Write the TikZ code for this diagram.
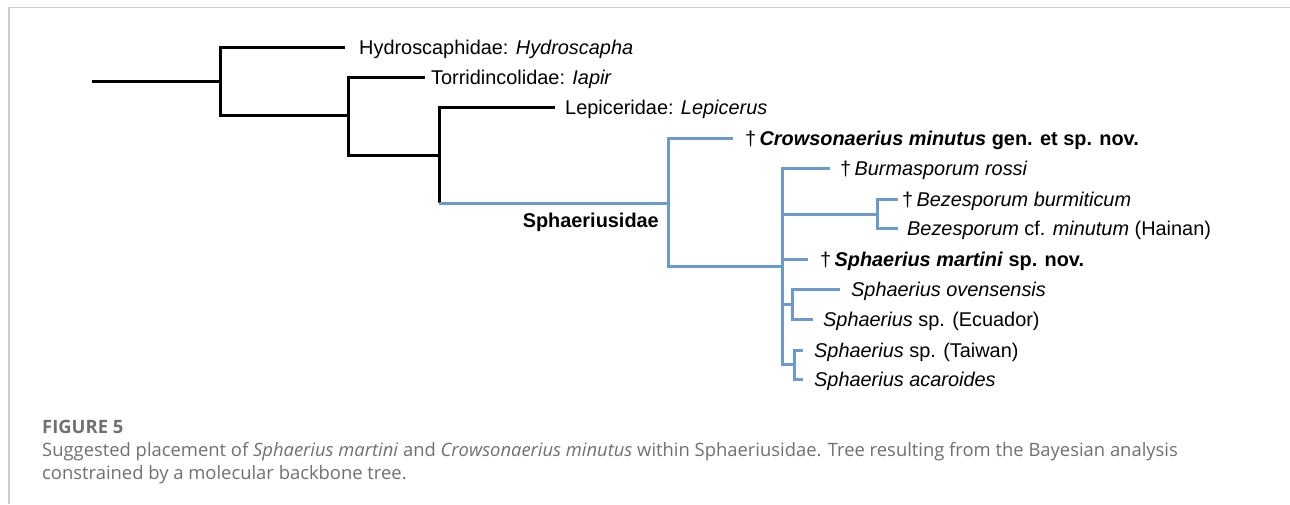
\documentclass[tikz,border=0pt]{standalone}
\usepackage{fontspec}
\setmainfont{Liberation Sans}
\newfontfamily\capfont{Open Sans}
\definecolor{treeblue}{HTML}{6A9BD0}
\definecolor{capgray}{HTML}{707070}
\definecolor{framegray}{HTML}{CCCCCC}
\begin{document}
\begin{tikzpicture}[x=1pt,y=-1pt,
  blk/.style={line width=3pt, black, line join=miter},
  blu/.style={line width=3pt, treeblue, line join=miter},
  lab/.style={anchor=base west, inner sep=0pt, font=\fontsize{19.9}{23}\selectfont},
  captxt/.style={anchor=base west, inner sep=0pt, text=capgray, font=\capfont\fontsize{18.4}{23}\selectfont},
  framestyle/.style={line width=1.5pt, framegray}
]
\useasboundingbox (0,0) rectangle (1290,504);
% frame
\coordinate (fTL) at (9,7.5);
\coordinate (fTR) at (1290,7.5);
\coordinate (fBL) at (9,504);
\draw[framestyle] (fTR) -- (fTL) -- (fBL);

% internal nodes
\coordinate (r0) at (92,81);
\coordinate (A) at (220,81);
\coordinate (B) at (348,115);
\coordinate (C) at (439,155);
\coordinate (Cb) at (439,203);
\coordinate (D) at (668,203);
\coordinate (E) at (782,266);
\coordinate (F) at (877,214);
\coordinate (G) at (792,304);
\coordinate (H) at (794,364);
% tips
\coordinate (tHy) at (345,47);
\coordinate (tTo) at (425,77);
\coordinate (tLe) at (555,107);
\coordinate (tCr) at (733,138);
\coordinate (tBu) at (830,168);
\coordinate (tBb) at (898,199);
\coordinate (tBm) at (898,228);
\coordinate (tMa) at (808,259);
\coordinate (tOv) at (840,289);
\coordinate (tEc) at (813,319);
\coordinate (tTw) at (803,350);
\coordinate (tAc) at (803,379);

% black backbone
\draw[blk] (r0) -- (A);
\draw[blk] (A) |- (tHy);
\draw[blk] (A) |- (B);
\draw[blk] (B) |- (tTo);
\draw[blk] (B) |- (C);
\draw[blk] (tLe) -| (Cb);
% blue Sphaeriusidae
\draw[blu] (Cb) -- (D);
\draw[blu] (D) |- (tCr);
\draw[blu] (D) |- (E);
\draw[blu] (E) |- (tBu);
\draw[blu] (E) |- (F);
\draw[blu] (E) |- (tMa);
\draw[blu] (E) |- (G);
\draw[blu] (E) |- (H);
\draw[blu] (F) |- (tBb);
\draw[blu] (F) |- (tBm);
\draw[blu] (G) |- (tOv);
\draw[blu] (G) |- (tEc);
\draw[blu] (H) |- (tTw);
\draw[blu] (H) |- (tAc);

% labels
\node[lab] (lHy) at (359,54) {Hydroscaphidae: \textit{Hydroscapha}};
\node[lab] (lTo) at (431,84) {Torridincolidae: \textit{Iapir}};
\node[lab] (lLe) at (565,114) {Lepiceridae: \textit{Lepicerus}};
\node[lab] (lCr) at (745,145) {†\,\textbf{\textit{Crowsonaerius minutus} gen. et sp. nov.}};
\node[lab] (lBu) at (840,175) {†\,\textit{Burmasporum rossi}};
\node[lab] (lBb) at (902,206) {†\,\textit{Bezesporum burmiticum}};
\node[lab] (lBm) at (907,235) {\textit{Bezesporum} cf. \textit{minutum} (Hainan)};
\node[lab] (lMa) at (820,266) {†\,\textbf{\textit{Sphaerius martini} sp. nov.}};
\node[lab] (lOv) at (851,296) {\textit{Sphaerius ovensensis}};
\node[lab] (lEc) at (823,326) {\textit{Sphaerius} sp. (Ecuador)};
\node[lab] (lTw) at (814,357) {\textit{Sphaerius} sp. (Taiwan)};
\node[lab] (lAc) at (814,386) {\textit{Sphaerius acaroides}};
\node[lab, anchor=base east] (lSph) at (659,227) {\textbf{Sphaeriusidae}};

% caption
\node[captxt, font=\capfont\bfseries\fontsize{18.4}{23}\selectfont] (fig) at (42,433) {FIGURE 5};
\node[captxt] (c1) at (42,456) {Suggested placement of \textit{Sphaerius martini} and \textit{Crowsonaerius minutus} within Sphaeriusidae. Tree resulting from the Bayesian analysis};
\node[captxt] (c2) at (42,479) {constrained by a molecular backbone tree.};
\end{tikzpicture}
\end{document}
